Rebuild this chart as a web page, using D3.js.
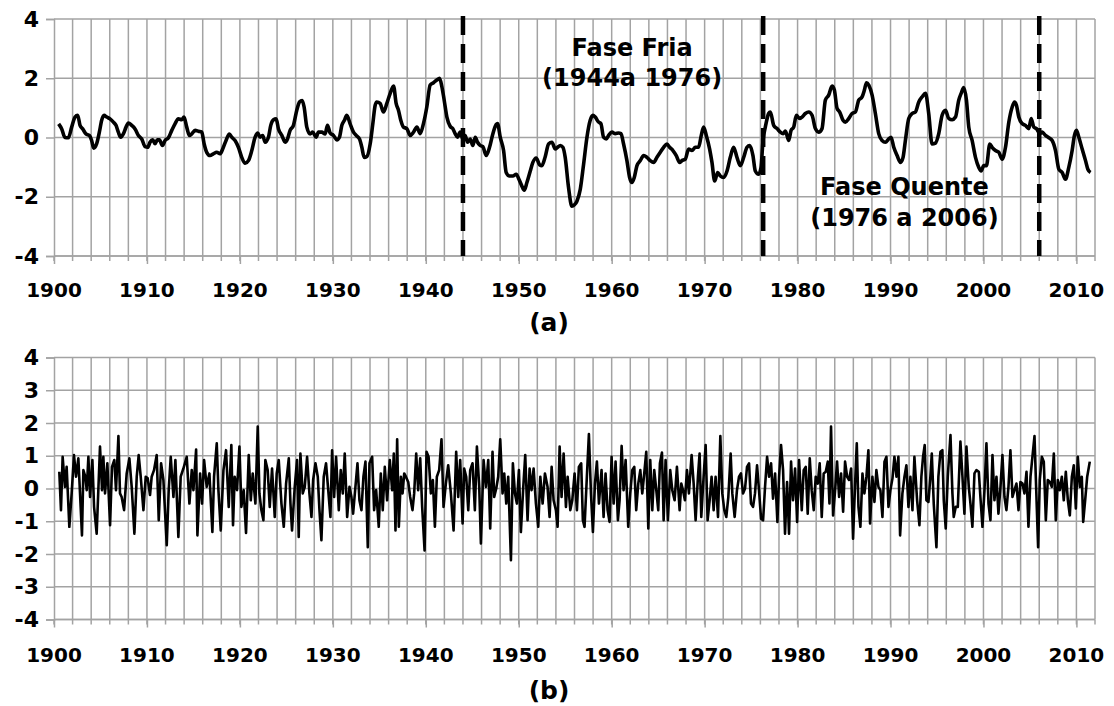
<!DOCTYPE html>
<html>
<head>
<meta charset="utf-8">
<script src="https://cdn.jsdelivr.net/npm/d3@7"></script>
<style>
  html, body { margin: 0; padding: 0; background: #fff; }
  svg { display: block; }
  text { font-family: "DejaVu Sans", Verdana, sans-serif; font-weight: bold; fill: #000; }
</style>
</head>
<body>
<div id="chart"></div>
<script>
// ---------------- DATA ----------------
// Panel (a): smoothed index (year, value)
const topYears = [1900.50,1900.83,1901.18,1901.54,1901.90,1902.26,1902.55,1902.80,1903.09,1903.44,1903.80,1904.05,1904.27,1904.59,1904.88,1905.13,1905.38,1905.67,1906.03,1906.39,1906.67,1906.92,1907.18,1907.46,1907.75,1908.00,1908.36,1908.72,1909.08,1909.44,1909.80,1910.08,1910.33,1910.62,1910.87,1911.12,1911.34,1911.66,1911.95,1912.31,1912.67,1913.02,1913.38,1913.74,1913.99,1914.28,1914.57,1914.82,1915.18,1915.54,1915.90,1916.15,1916.43,1916.79,1917.15,1917.51,1917.87,1918.16,1918.51,1918.87,1919.12,1919.48,1919.84,1920.20,1920.56,1920.92,1921.28,1921.64,1921.92,1922.17,1922.46,1922.71,1923.07,1923.32,1923.61,1923.90,1924.15,1924.51,1924.87,1925.12,1925.40,1925.76,1926.12,1926.41,1926.70,1926.91,1927.20,1927.56,1927.84,1928.20,1928.45,1928.81,1929.17,1929.42,1929.71,1930.07,1930.43,1930.71,1930.97,1931.25,1931.50,1931.86,1932.22,1932.51,1932.87,1933.12,1933.37,1933.66,1934.02,1934.30,1934.55,1934.73,1935.09,1935.45,1935.81,1936.17,1936.53,1936.81,1937.06,1937.31,1937.60,1937.96,1938.32,1938.68,1939.04,1939.40,1939.75,1940.11,1940.47,1940.83,1941.19,1941.48,1941.73,1941.98,1942.27,1942.62,1942.91,1943.16,1943.41,1943.70,1943.99,1944.24,1944.49,1944.78,1945.06,1945.32,1945.57,1945.85,1946.14,1946.50,1946.86,1947.22,1947.58,1947.72,1948.01,1948.37,1948.65,1949.01,1949.37,1949.73,1950.02,1950.34,1950.59,1950.88,1951.24,1951.52,1951.88,1952.24,1952.49,1952.85,1953.21,1953.57,1953.93,1954.18,1954.47,1954.75,1955.00,1955.36,1955.72,1955.97,1956.26,1956.62,1956.98,1957.34,1957.69,1957.98,1958.23,1958.59,1958.84,1959.13,1959.42,1959.67,1960.03,1960.39,1960.74,1961.00,1961.28,1961.64,1961.93,1962.18,1962.43,1962.72,1963.08,1963.44,1963.79,1964.15,1964.51,1964.87,1965.23,1965.59,1965.95,1966.23,1966.59,1966.95,1967.31,1967.56,1967.92,1968.28,1968.64,1969.00,1969.35,1969.64,1969.89,1970.18,1970.54,1970.79,1971.08,1971.40,1971.69,1972.05,1972.41,1972.76,1973.12,1973.48,1973.84,1974.20,1974.56,1974.85,1975.20,1975.45,1975.81,1976.07,1976.28,1976.53,1976.89,1977.07,1977.43,1977.79,1978.15,1978.44,1978.69,1979.05,1979.30,1979.58,1979.87,1980.23,1980.48,1980.84,1981.20,1981.56,1981.92,1982.27,1982.63,1982.99,1983.35,1983.71,1983.96,1984.25,1984.53,1984.89,1985.14,1985.50,1985.86,1986.22,1986.58,1986.94,1987.19,1987.41,1987.66,1988.02,1988.37,1988.73,1989.09,1989.45,1989.81,1990.06,1990.35,1990.71,1991.07,1991.35,1991.60,1991.96,1992.32,1992.68,1993.04,1993.40,1993.76,1994.11,1994.47,1994.83,1995.19,1995.55,1995.91,1996.27,1996.63,1996.99,1997.34,1997.60,1997.88,1998.17,1998.42,1998.78,1999.14,1999.50,1999.75,2000.03,2000.32,2000.68,2000.93,2001.29,2001.65,2002.01,2002.37,2002.73,2003.09,2003.34,2003.55,2003.80,2004.16,2004.52,2004.88,2005.13,2005.42,2005.70,2006.06,2006.32,2006.67,2007.03,2007.39,2007.75,2008.11,2008.47,2008.82,2009.18,2009.54,2009.79,2010.01,2010.26,2010.62,2010.98,2011.23,2011.52];
const topValues = [0.46,0.29,0.00,-0.01,0.35,0.69,0.75,0.41,0.29,0.12,0.07,-0.10,-0.36,-0.21,0.18,0.58,0.75,0.69,0.63,0.52,0.41,0.18,0.01,0.12,0.35,0.49,0.41,0.29,0.07,-0.05,-0.31,-0.33,-0.16,-0.08,-0.21,-0.08,-0.08,-0.27,-0.10,-0.01,0.24,0.46,0.63,0.60,0.69,0.35,0.07,0.12,0.24,0.21,0.18,-0.21,-0.50,-0.61,-0.55,-0.50,-0.55,-0.38,-0.10,0.12,0.01,-0.10,-0.33,-0.67,-0.87,-0.78,-0.44,0.01,0.15,0.01,0.07,-0.16,0.01,0.41,0.60,0.63,0.29,0.07,-0.16,-0.05,0.24,0.41,0.92,1.20,1.25,1.03,0.35,0.12,0.18,0.01,0.18,0.18,0.12,0.41,0.15,0.07,-0.08,0.01,0.41,0.58,0.75,0.46,0.18,0.07,-0.05,-0.33,-0.67,-0.64,-0.21,0.46,1.08,1.20,1.15,0.86,1.15,1.49,1.74,1.15,0.92,0.58,0.35,0.30,0.07,0.18,0.35,0.13,0.47,1.03,1.77,1.85,1.94,2.00,1.72,1.26,0.69,0.38,0.30,0.13,0.01,0.18,-0.05,0.07,-0.16,-0.05,-0.27,0.01,-0.16,-0.27,-0.31,-0.61,-0.33,0.13,0.44,0.47,0.01,-0.44,-1.18,-1.30,-1.30,-1.24,-1.41,-1.64,-1.78,-1.52,-1.13,-0.84,-0.69,-0.92,-0.95,-0.65,-0.22,-0.16,-0.39,-0.33,-0.27,-0.33,-0.67,-1.69,-2.32,-2.28,-2.15,-1.75,-0.90,0.01,0.58,0.75,0.69,0.52,0.47,0.01,-0.05,0.07,0.18,0.13,0.15,0.13,-0.22,-0.78,-1.35,-1.52,-1.35,-0.95,-0.78,-0.61,-0.67,-0.78,-0.84,-0.67,-0.50,-0.33,-0.22,-0.33,-0.44,-0.61,-0.84,-0.78,-0.73,-0.39,-0.44,-0.33,-0.33,0.07,0.35,0.07,-0.39,-0.84,-1.47,-1.18,-1.30,-1.35,-1.13,-0.67,-0.33,-0.67,-0.95,-0.67,-0.33,-0.27,-0.61,-1.13,-1.24,-1.01,-0.10,0.35,0.81,0.86,0.41,0.30,0.18,0.13,0.22,-0.10,0.24,0.35,0.75,0.64,0.69,0.81,0.86,0.75,0.30,0.18,0.30,1.26,1.43,1.74,1.60,0.98,0.86,0.58,0.52,0.64,0.81,0.86,1.26,1.37,1.60,1.85,1.77,1.43,0.81,0.13,-0.10,-0.16,-0.05,0.01,-0.33,-0.61,-0.84,-0.67,-0.10,0.64,0.81,0.86,1.20,1.37,1.49,0.81,-0.22,-0.19,0.13,0.75,0.92,0.64,0.60,0.69,1.26,1.49,1.69,1.26,0.35,-0.10,-0.67,-1.01,-1.13,-0.95,-0.95,-0.22,-0.33,-0.44,-0.50,-0.73,-0.33,0.52,1.03,1.20,1.09,0.69,0.47,0.41,0.30,0.64,0.35,0.30,0.13,0.18,0.07,-0.01,-0.10,-0.44,-1.07,-1.18,-1.41,-1.01,-0.44,0.07,0.24,0.01,-0.39,-0.78,-1.07,-1.18];

// Panel (b): residual / high-frequency component (year, value)
const bottomYears = [1900.57,1900.75,1900.93,1901.18,1901.36,1901.65,1901.90,1902.15,1902.37,1902.62,1902.80,1903.01,1903.16,1903.37,1903.52,1903.70,1903.88,1904.13,1904.31,1904.59,1904.95,1905.17,1905.31,1905.49,1905.74,1906.03,1906.24,1906.49,1906.67,1906.93,1907.10,1907.28,1907.54,1907.82,1908.11,1908.36,1908.65,1908.90,1909.11,1909.33,1909.62,1909.87,1910.08,1910.33,1910.51,1910.76,1911.05,1911.27,1911.52,1911.77,1912.13,1912.34,1912.56,1912.85,1913.06,1913.38,1913.63,1913.92,1914.28,1914.57,1914.82,1915.00,1915.29,1915.43,1915.72,1915.93,1916.15,1916.43,1916.72,1917.04,1917.22,1917.51,1917.69,1917.94,1918.23,
1918.51,1918.80,1919.08,1919.26,1919.44,1919.69,1919.95,1920.16,1920.41,1920.66,1920.95,1921.17,1921.38,1921.67,1921.92,1922.10,1922.31,1922.53,1922.74,1922.99,1923.21,1923.46,1923.75,1923.96,1924.18,1924.47,1924.72,1924.97,1925.26,1925.44,1925.61,1925.90,1926.15,1926.33,1926.51,1926.76,1926.98,1927.23,1927.48,1927.70,1927.88,1928.13,1928.38,1928.56,1928.77,1929.02,1929.27,1929.49,1929.74,1929.92,1930.14,1930.35,1930.64,1930.85,1931.07,1931.28,1931.54,1931.79,1932.00,1932.18,1932.43,1932.65,1932.86,1933.08,1933.29,1933.51,1933.76,1933.94,1934.23,1934.44,1934.66,1934.94,1935.16,1935.37,1935.59,1935.84,1936.13,1936.38,1936.56,1936.74,1936.92,1937.10,
1937.32,1937.50,1937.68,1937.86,1938.11,1938.32,1938.57,1938.75,1938.97,1939.18,1939.40,1939.61,1939.87,1940.08,1940.30,1940.55,1940.76,1940.98,1941.19,1941.44,1941.69,1941.91,1942.16,1942.41,1942.70,1942.99,1943.27,1943.49,1943.70,1943.96,1944.13,1944.35,1944.57,1944.78,1945.03,1945.28,1945.50,1945.75,1945.93,1946.22,1946.47,1946.72,1946.93,1947.18,1947.36,1947.58,1947.79,1948.01,1948.26,1948.44,1948.66,1948.87,1949.16,1949.37,1949.59,1949.80,1950.02,1950.23,1950.49,1950.70,1950.95,1951.17,1951.38,1951.60,1951.85,1952.10,1952.32,1952.57,1952.82,1953.10,1953.32,1953.54,1953.75,1954.00,1954.18,1954.40,1954.61,1954.83,1955.08,1955.26,1955.55,
1955.76,1956.01,1956.26,1956.47,1956.72,1956.90,1957.08,1957.33,1957.55,1957.77,1957.98,1958.20,1958.41,1958.63,1958.91,1959.13,1959.34,1959.56,1959.77,1959.99,1960.21,1960.42,1960.67,1960.85,1961.07,1961.28,1961.50,1961.78,1962.00,1962.21,1962.43,1962.64,1962.86,1963.08,1963.29,1963.47,1963.72,1963.94,1964.15,1964.37,1964.58,1964.80,1965.01,1965.19,1965.41,1965.59,1965.80,1966.05,1966.30,1966.52,1966.77,1967.02,1967.31,1967.49,1967.67,1967.88,1968.10,1968.31,1968.60,1968.82,1969.03,1969.28,1969.46,1969.64,1969.89,1970.11,1970.32,1970.54,1970.75,1970.97,1971.18,1971.44,1971.69,1971.90,1972.12,1972.33,1972.55,1972.80,1972.98,1973.23,1973.48,1973.70,1973.91,1974.13,
1974.35,1974.56,1974.78,1974.99,1975.21,1975.42,1975.64,1975.85,1976.07,1976.29,1976.50,1976.72,1976.93,1977.15,1977.36,1977.58,1977.83,1978.01,1978.22,1978.44,1978.65,1978.87,1979.08,1979.30,1979.51,1979.73,1979.95,1980.16,1980.45,1980.66,1980.88,1981.09,1981.31,1981.52,1981.74,1981.95,1982.17,1982.38,1982.60,1982.81,1983.03,1983.25,1983.43,1983.60,1983.82,1984.04,1984.25,1984.47,1984.68,1984.90,1985.11,1985.33,1985.54,1985.76,1985.97,1986.19,1986.37,1986.55,1986.76,1986.98,1987.19,1987.41,1987.62,1987.80,1988.05,1988.27,1988.48,1988.70,1988.91,1989.13,1989.35,1989.56,1989.78,1989.99,1990.21,1990.42,1990.64,1990.85,1991.03,1991.28,1991.50,1991.71,1991.93,1992.14,1992.36,1992.57,
1992.86,1993.11,1993.32,1993.50,1993.68,1993.86,1994.08,1994.29,1994.44,1994.65,1994.94,1995.15,1995.37,1995.58,1995.73,1995.94,1996.16,1996.45,1996.66,1996.80,1997.02,1997.24,1997.52,1997.74,1997.95,1998.17,1998.42,1998.60,1998.81,1999.03,1999.24,1999.50,1999.67,1999.89,2000.11,2000.32,2000.54,2000.75,2000.97,2001.18,2001.40,2001.61,2001.83,2002.04,2002.26,2002.47,2002.69,2002.90,2003.12,2003.33,2003.55,2003.77,2003.98,2004.20,2004.41,2004.63,2004.84,2005.06,2005.27,2005.49,2005.70,2005.88,2006.06,2006.28,2006.49,2006.71,2006.92,2007.14,2007.35,2007.57,2007.78,2008.00,2008.21,2008.43,2008.64,2008.86,2009.08,2009.29,2009.51,2009.72,2009.94,2010.15,2010.37,2010.58,2010.73,2010.94,2011.16,2011.44];
const bottomValues = [0.51,-0.66,0.97,0.05,0.66,-1.17,-0.15,1.02,0.36,0.92,-0.15,-1.43,0.56,0.36,-0.05,0.97,-0.26,0.87,-0.56,-1.38,1.28,-0.05,0.97,-0.15,0.77,-1.12,0.66,0.87,-0.05,1.60,-0.15,-0.26,-0.66,0.46,0.92,0.05,-1.38,0.36,1.02,0.36,-0.66,0.36,0.31,-0.20,0.36,0.56,1.02,-0.97,0.77,0.26,-1.73,-0.05,0.97,-0.26,0.87,-1.48,0.36,0.61,0.97,-0.46,0.56,-0.05,1.19,-1.43,0.46,-0.46,0.87,0.05,0.46,-1.33,0.36,1.38,-0.05,-1.28,0.56,
1.17,-0.56,1.33,-1.12,0.36,-0.05,1.28,-0.56,-0.05,-1.36,1.02,-0.36,0.46,-0.46,1.89,-0.15,-0.66,-0.97,0.87,0.56,-0.56,0.61,-0.87,0.46,0.87,-0.46,-1.17,0.15,0.92,-0.46,-1.28,0.05,0.87,-1.48,1.07,-0.15,0.05,0.97,-0.15,-0.87,0.26,0.77,0.36,-0.66,-1.58,0.36,0.77,0.00,-0.87,1.17,-0.26,0.97,-0.66,0.56,-0.15,1.07,-0.87,0.05,-0.26,-0.77,0.05,0.77,-0.36,-0.66,0.36,0.82,-1.79,0.77,0.97,-0.66,-0.05,-1.17,0.46,-0.66,0.66,-0.36,0.87,-0.05,1.07,-1.28,1.50,-1.17,
0.36,-0.15,0.46,0.36,0.20,-0.26,-0.66,-0.15,1.07,-0.05,0.92,-0.56,-1.89,1.12,0.97,-0.15,0.26,-1.17,0.36,0.56,1.50,-0.56,0.15,0.71,-0.15,-1.28,1.12,-0.26,0.87,-1.07,0.61,0.36,-0.66,0.56,0.77,-0.66,1.28,0.05,-1.68,0.87,0.05,0.87,-1.22,1.12,-0.26,0.00,0.36,1.50,-0.15,0.46,-0.46,0.36,-2.19,0.77,-0.15,-0.46,0.56,-1.33,0.05,1.02,-0.97,0.61,-0.05,0.61,-0.46,-1.17,0.36,-0.46,0.46,0.05,-0.87,0.66,-0.36,-0.66,-1.17,1.28,-0.26,1.07,-0.56,0.36,-0.66,
-0.36,0.46,-0.66,0.66,0.77,-0.97,-1.17,0.36,1.66,-0.15,-1.33,0.15,0.82,-0.46,0.56,-0.87,0.46,-0.66,-1.02,0.97,-0.46,0.82,-0.97,-0.36,1.30,-0.05,0.87,-1.17,-0.15,0.56,0.66,-0.66,0.15,0.56,-0.15,0.36,1.12,-1.22,0.87,-0.66,0.56,-0.05,-0.66,0.77,1.10,-0.97,0.87,-0.97,0.56,-0.05,-0.36,0.66,-0.66,0.15,-0.05,-0.36,0.56,-0.15,1.02,0.15,-0.97,0.36,1.07,-0.87,0.36,1.33,-0.97,-0.36,0.36,-0.66,0.36,-0.87,1.60,-0.15,-0.66,-0.87,-0.26,1.07,-0.15,-0.87,-0.05,0.36,0.46,-0.15,
0.00,0.66,0.77,-0.46,-0.56,-0.15,0.71,-0.05,-0.92,-0.97,0.05,0.97,0.36,0.77,-0.31,0.46,-1.02,0.36,1.33,0.56,-1.38,0.20,-1.38,0.82,-0.36,0.61,-1.02,0.87,-0.66,0.56,0.66,-0.77,0.92,-0.05,-0.66,0.36,0.15,0.77,-0.87,0.46,0.51,0.82,-0.46,1.89,-0.82,-0.05,0.82,-0.26,0.46,-0.71,0.82,0.36,0.26,0.61,-1.53,0.15,1.38,-0.56,-1.17,0.46,-0.15,0.36,1.17,-1.07,0.36,-0.41,0.56,0.05,-0.05,-0.87,0.82,0.97,-0.56,-0.05,0.31,0.97,0.36,0.97,-1.43,-0.15,0.36,0.71,-0.56,0.36,-0.66,0.97,
-0.36,-1.12,0.36,0.97,1.33,-0.36,-0.41,0.36,1.07,-0.46,-1.79,0.36,1.12,1.17,-0.36,-1.22,0.36,1.63,-0.15,-0.87,-0.56,-0.56,1.43,0.36,-0.77,1.28,0.05,-0.46,-1.17,0.46,0.56,0.51,-0.26,-1.17,-0.05,1.38,-0.46,-0.97,1.02,-0.36,0.36,-0.77,0.05,1.02,-0.26,-0.66,0.05,1.17,-0.26,-0.05,0.15,-0.66,0.20,0.15,-0.15,0.51,-1.17,0.36,0.97,1.60,-0.26,-1.79,0.26,0.97,0.82,-0.97,0.26,0.20,0.05,1.07,-0.97,0.26,-0.05,0.36,-0.36,0.51,-0.36,-0.82,0.36,0.71,-0.61,0.97,0.05,0.36,-1.02,-0.36,0.36,0.82];

const xDomain = [1900, 2012];
const xLabelYears = [1900,1910,1920,1930,1940,1950,1960,1970,1980,1990,2000,2010];
const xGridStep = 2;
const topYTicks = [-4,-2,0,2,4];
const bottomYTicks = [-4,-3,-2,-1,0,1,2,3,4];
const phaseLines = [1944, 1976.3, 2006];
const annotations = [
  {lines: ["Fase Fria", "(1944a 1976)"], year: 1962.2, value: [2.76, 1.74]},
  {lines: ["Fase Quente", "(1976 a 2006)"], year: 1991.5, value: [-1.93, -2.98]}
];
const panelLabels = ["(a)", "(b)"];

// ---------------- LAYOUT ----------------
const W = 1114, H = 706;
const gridColor = "#a3a3a3";
const svg = d3.select("#chart").append("svg").attr("width", W).attr("height", H);

const x = d3.scaleLinear().domain(xDomain).range([54, 1095]);

const panels = [
  {years: topYears, values: topValues, yTicks: topYTicks, range: [256, 19], lw: 3.6, curve: d3.curveMonotoneX,
   xLabelY: 297, panelLabelY: 331, label: panelLabels[0]},
  {years: bottomYears, values: bottomValues, yTicks: bottomYTicks, range: [619.5, 357.5], lw: 2.6, curve: d3.curveLinear,
   xLabelY: 662, panelLabelY: 699, label: panelLabels[1]}
];

const gridYears = d3.range(xDomain[0], xDomain[1] + 0.001, xGridStep);

panels.forEach((p, i) => {
  const y = d3.scaleLinear().domain([-4, 4]).range(p.range);
  const g = svg.append("g");

  // vertical gridlines every 2 years
  g.selectAll("line.vg").data(gridYears.filter(d => d > xDomain[0])).enter().append("line")
    .attr("x1", d => x(d)).attr("x2", d => x(d))
    .attr("y1", y(4)).attr("y2", y(-4))
    .attr("stroke", gridColor).attr("stroke-width", 1.5);
  // horizontal gridlines
  g.selectAll("line.hg").data(p.yTicks).enter().append("line")
    .attr("x1", x(xDomain[0])).attr("x2", x(xDomain[1]))
    .attr("y1", d => y(d)).attr("y2", d => y(d))
    .attr("stroke", gridColor).attr("stroke-width", 1.5);

  // y axis
  const yAxis = d3.axisLeft(y).tickValues(p.yTicks).tickSize(8).tickPadding(7).tickFormat(d => String(d));
  const ya = g.append("g").attr("transform", `translate(${x(xDomain[0])},0)`).call(yAxis);
  ya.select(".domain").attr("stroke", gridColor).attr("stroke-width", 1.5);
  ya.selectAll(".tick line").attr("stroke", gridColor).attr("stroke-width", 1.5);
  ya.selectAll(".tick text").attr("font-size", 22).attr("font-family", null).attr("fill", "#000");

  // x axis minor ticks (every 2 yrs)
  g.selectAll("line.mt").data(gridYears).enter().append("line")
    .attr("x1", d => x(d)).attr("x2", d => x(d))
    .attr("y1", y(-4)).attr("y2", y(-4) + 5)
    .attr("stroke", gridColor).attr("stroke-width", 1.5);
  const xAxis = d3.axisBottom(x).tickValues(xLabelYears).tickSize(8).tickFormat(d3.format("d"));
  const xa = g.append("g").attr("transform", `translate(0,${y(-4)})`).call(xAxis);
  xa.select(".domain").remove();
  xa.selectAll(".tick line").attr("stroke", gridColor).attr("stroke-width", 1.5);
  xa.selectAll(".tick text").remove();
  g.selectAll("text.xl").data(xLabelYears).enter().append("text")
    .attr("x", d => x(d)).attr("y", p.xLabelY)
    .attr("text-anchor", "middle").attr("font-size", 20)
    .text(d => d);
  // bottom axis line
  g.append("line").attr("x1", x(xDomain[0])).attr("x2", x(xDomain[1]))
    .attr("y1", y(-4)).attr("y2", y(-4)).attr("stroke", gridColor).attr("stroke-width", 1.5);

  // data line
  const data = p.years.map((yr, k) => [yr, p.values[k]]);
  g.append("path").datum(data)
    .attr("fill", "none").attr("stroke", "#000").attr("stroke-width", p.lw)
    .attr("stroke-linejoin", "round")
    .attr("d", d3.line().x(d => x(d[0])).y(d => y(d[1])).curve(p.curve));

  // panel label
  svg.append("text").attr("x", 549).attr("y", p.panelLabelY)
    .attr("text-anchor", "middle").attr("font-size", 25).text(p.label);

  if (i === 0) {
    // dashed phase lines
    g.selectAll("line.ph").data(phaseLines).enter().append("line")
      .attr("x1", d => x(d)).attr("x2", d => x(d))
      .attr("y1", 16).attr("y2", y(-4))
      .attr("stroke", "#000").attr("stroke-width", 4.5)
      .attr("stroke-dasharray", "19,9");
    annotations.forEach(a => {
      a.lines.forEach((t, k) => {
        g.append("text").attr("x", x(a.year)).attr("y", y(a.value[k]))
          .attr("text-anchor", "middle").attr("font-size", 24).text(t);
      });
    });
  }
});
</script>
</body>
</html>
